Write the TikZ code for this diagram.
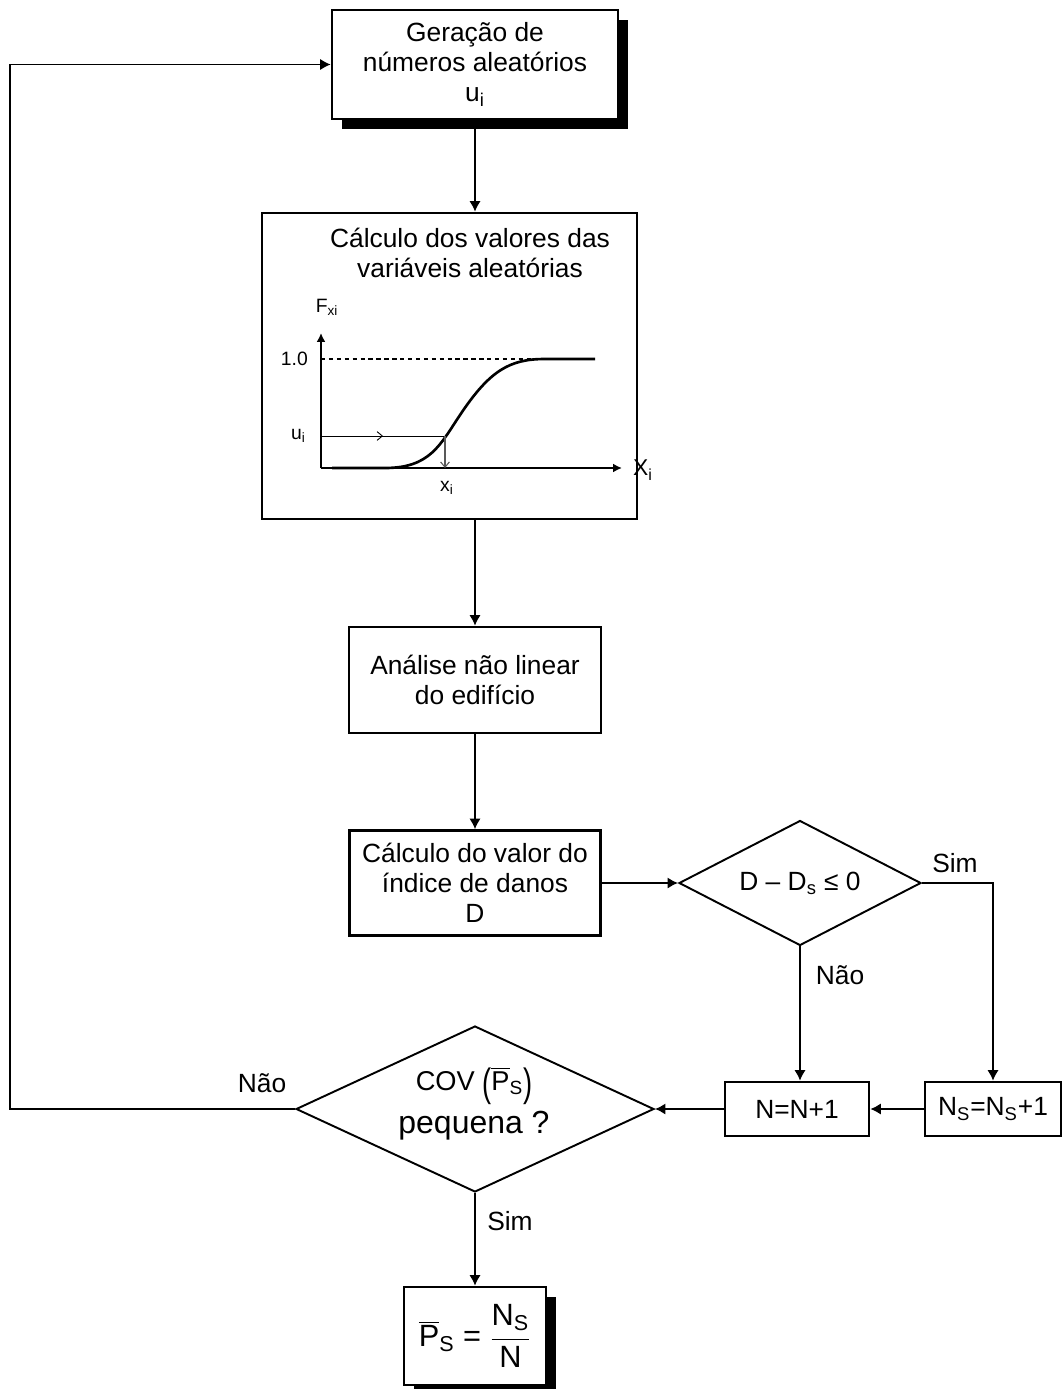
\documentclass[tikz,border=0pt]{standalone}
\usepackage{fontspec}
\setmainfont{Liberation Sans}
\usetikzlibrary{positioning,calc,arrows.meta,shapes.geometric,shadows,decorations.markings}
\tikzset{>={Latex[length=6pt,width=6.5pt]}}
\newcommand{\sbs}[1]{\textsubscript{#1}}
\newcommand{\bigpar}[1]{\raisebox{-0.22em}{\scalebox{1}[1.45]{#1}}}

\begin{document}
\begin{tikzpicture}[x=0.02cm, y=-0.02cm,
  box/.style={draw, line width=1.5pt, fill=white, align=center, inner sep=0pt,
    font=\fontsize{15}{17}\selectfont},
  shbox/.style={box, drop shadow={shadow xshift=0.2cm, shadow yshift=-0.2cm, fill=black, opacity=1}},
  test/.style={draw, diamond, line width=1.1pt, fill=white, inner sep=0pt,
    font=\fontsize{15}{17}\selectfont},
  lbl/.style={font=\fontsize{15}{17}\selectfont},
  plotlbl/.style={font=\fontsize{11}{13}\selectfont},
  flow/.style={line width=1.1pt, ->}]

  \useasboundingbox (0,0) rectangle (1063,1389);

  % Boxes
  \node[shbox, minimum width=5.72cm, minimum height=2.18cm] (gen) at (475,64.5)
    {Geração de\\números aleatórios\\u\sbs{i}};
  \node[box, minimum width=7.5cm, minimum height=6.12cm] (calc) at (449.5,366) {};
  \node[lbl, align=center] (calctitle) at (470,253)
    {Cálculo dos valores das\\variáveis aleatórias};
  \node[box, minimum width=5.04cm, minimum height=2.12cm] (anal) at (475,680)
    {Análise não linear\\do edifício};
  \node[box, minimum width=5.02cm, minimum height=2.1cm] (dmg) at (475,883)
    {Cálculo do valor do\\índice de danos\\D};
  \node[test, minimum width=4.84cm, minimum height=2.5cm, shape aspect=1.94] (dmgtest) at (800,883)
    {D – D\sbs{s} ≤ 0};
  \node[box, minimum width=2.88cm, minimum height=1.08cm] (nn) at (797,1109) {N=N+1};
  \node[box, minimum width=2.72cm, minimum height=1.08cm] (ns) at (993,1109)
    {N\sbs{S}=N\sbs{S}+1};
  \node[test, minimum width=7.16cm, minimum height=3.32cm, shape aspect=2.16] (cov) at (475,1109) {};
  \node[anchor=base, font=\fontsize{15.5}{17}\selectfont] (covA) at (474,1090)
    {COV \bigpar{(}$\overline{\mbox{P}}$\sbs{S}\bigpar{)}};
  \node[anchor=base, font=\fontsize{18.2}{20}\selectfont] (covB) at (474,1133) {pequena ?};
  \node[shbox, minimum width=2.84cm, minimum height=1.96cm, font=\fontsize{17.5}{20}\selectfont] (fin) at (475,1336)
    {$\displaystyle\overline{\mbox{P}}\mbox{\sbs{S}}\mbox{ = }\frac{\mbox{N\sbs{S}}}{\mbox{N}}$};

  % Distribution sketch
  \coordinate (O) at (321,468);
  \coordinate (U) at (321,436);
  \coordinate (Xc) at (445,436);
  \draw[line width=1.2pt, -{Latex[length=5pt,width=5pt]}] (O) -- (321,333);
  \draw[line width=1.2pt, -{Latex[length=5pt,width=5pt]}] (O) -- (622,468);
  \draw[line width=1pt, dash pattern=on 2.5pt off 2pt] (321,359) -- (543,359);
  \draw[line width=1.5pt]
    (332,468) -- (385,468)
      .. controls (430,468) and (440,445) .. (460,415)
      .. controls (490,370) and (510,359) .. (545,359) -- (595,359);
  \draw[line width=0.5pt, postaction={decorate},
    decoration={markings, mark=at position 0.5 with {\arrow{Straight Barb[length=3pt,width=5pt]}}}]
    (U) -- (Xc);
  \draw[gray!70!black, line width=0.6pt, -{Straight Barb[length=3pt,width=5pt]}] (Xc) -- (Xc |- O);
  \node[plotlbl] (fx) at (327,307) {F\sbs{xi}};
  \node[plotlbl, anchor=east] (one) at (314,359) {1.0};
  \node[plotlbl, anchor=east] (uu) at (312,436) {u\sbs{i}};
  \node[plotlbl] (xx) at (447,488) {x\sbs{i}};
  \node[anchor=west, font=\fontsize{13}{15}\selectfont] (XX) at (627,470) {X\sbs{i}};

  % Labels
  \node[lbl] (sim1) at (955,863) {Sim};
  \node[lbl] (nao1) at (840,975) {Não};
  \node[lbl] (nao2) at (262,1083) {Não};
  \node[lbl] (sim2) at (510,1221) {Sim};

  % Connectors
  \coordinate (back) at (10,1109);
  \draw[flow] (gen.south) -- (gen.south |- calc.north);
  \draw[flow] (gen.south |- calc.south) -- (anal.north);
  \draw[flow] (anal.south) -- (dmg.north);
  \draw[flow] (dmg.east) -- (dmgtest.west);
  \draw[flow] (dmgtest.east) -| (ns.north);
  \draw[flow] (dmgtest.south) -- (dmgtest.south |- nn.north);
  \draw[flow] (ns.west) -- (nn.east);
  \draw[flow] (nn.west) -- (cov.east);
  \draw[flow] (cov.west) -- (back) |- (gen.west);
  \draw[flow] (cov.south) -- (fin.north);
\end{tikzpicture}
\end{document}
